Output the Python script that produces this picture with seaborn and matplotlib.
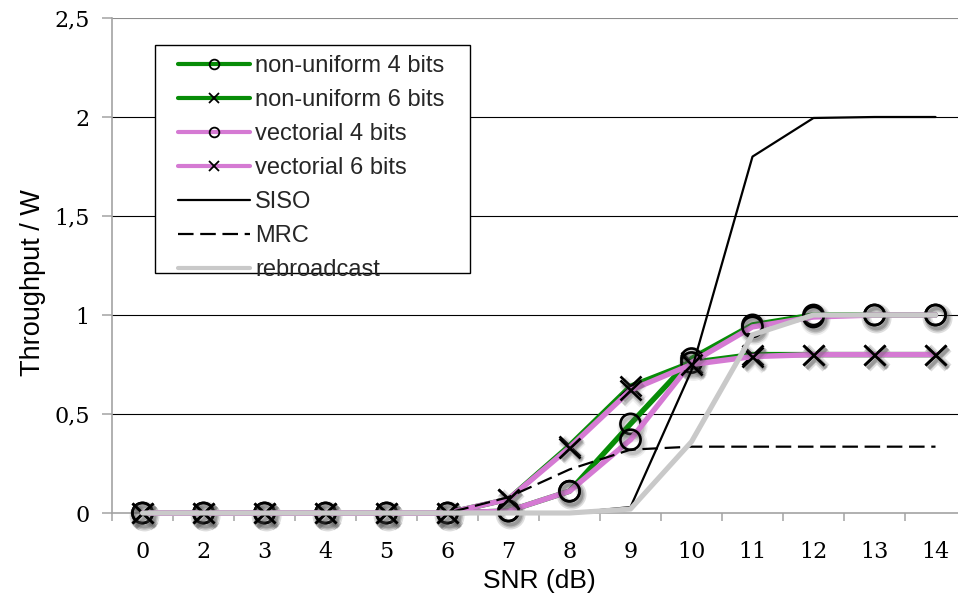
import matplotlib
matplotlib.use("Agg")
import matplotlib.pyplot as plt
import matplotlib.patheffects as pe
from matplotlib.lines import Line2D
from matplotlib.patches import Rectangle
from matplotlib.ticker import FixedLocator
import seaborn as sns

# SNR categories (dB) and throughput per W for each scheme
snr_labels = ["0", "2", "3", "4", "5", "6", "7", "8", "9", "10", "11", "12", "13", "14"]
nonuniform_4 = [0, 0, 0, 0, 0, 0, 0.01, 0.11, 0.45, 0.78, 0.95, 1.0, 1.0, 1.0]
nonuniform_6 = [0, 0, 0, 0, 0, 0, 0.07, 0.34, 0.64, 0.76, 0.80, 0.80, 0.80, 0.80]
vectorial_4 = [0, 0, 0, 0, 0, 0, 0.01, 0.11, 0.37, 0.76, 0.94, 0.99, 1.0, 1.0]
vectorial_6 = [0, 0, 0, 0, 0, 0, 0.07, 0.33, 0.62, 0.75, 0.79, 0.80, 0.80, 0.80]
siso = [0, 0, 0, 0, 0, 0, 0, 0, 0.03, 0.72, 1.80, 1.995, 2.0, 2.0]
mrc = [0, 0, 0, 0, 0, 0, 0.08, 0.22, 0.32, 0.335, 0.335, 0.335, 0.335, 0.335]
rebroadcast = [0, 0, 0, 0, 0, 0, 0, 0, 0.02, 0.36, 0.90, 1.0, 1.0, 1.0]

y_ticks = [0, 0.5, 1, 1.5, 2, 2.5]
y_tick_labels = ["0", "0,5", "1", "1,5", "2", "2,5"]

GREEN = "#078C07"
PINK = "#D57AD3"
GRAY = "#C9C9C9"
AXIS_GRAY = "#A3A3A3"

series = [
    ("non-uniform 4 bits", nonuniform_4, GREEN, 3.9, "-", "o"),
    ("non-uniform 6 bits", nonuniform_6, GREEN, 3.9, "-", "x"),
    ("vectorial 4 bits", vectorial_4, PINK, 3.9, "-", "o"),
    ("vectorial 6 bits", vectorial_6, PINK, 3.9, "-", "x"),
    ("SISO", siso, "black", 1.6, "-", None),
    ("MRC", mrc, "black", 1.6, (0, (7, 3)), None),
    ("rebroadcast", rebroadcast, GRAY, 3.7, "-", None),
]

sns.set_theme(style="white")
plt.rcParams["font.family"] = ["Liberation Sans", "DejaVu Sans"]

fig = plt.figure(figsize=(9.58, 6.02), dpi=100)
ax = fig.add_axes([112 / 958, 89 / 602, 854 / 958, 495 / 602])

# horizontal gridlines
for yv in y_ticks[1:]:
    ax.axhline(yv, color="#8C8C8C" if yv == y_ticks[-1] else "black", lw=0.8, zorder=1)

# soft drop shadow under the markers
shadow = [pe.SimpleLineShadow(offset=(1.5, -2.5), shadow_color="0.35", alpha=0.10, linewidth=7),
          pe.SimpleLineShadow(offset=(1.5, -2.5), shadow_color="0.35", alpha=0.14, linewidth=4.5),
          pe.SimpleLineShadow(offset=(1.5, -2.5), shadow_color="0.35", alpha=0.18, linewidth=2.5),
          pe.Normal()]

handles = []
z = 3
for name, vals, color, lw, ls, mk in series:
    sns.lineplot(x=snr_labels, y=vals, ax=ax, color=color, lw=lw, linestyle=ls,
                 sort=False, estimator=None, zorder=z, clip_on=False)
    if mk is not None:
        sns.lineplot(x=snr_labels, y=vals, ax=ax, linestyle="", marker=mk,
                     markersize=14.5, markerfacecolor="none", markeredgecolor="black",
                     markeredgewidth=1.9, sort=False, estimator=None,
                     zorder=z + 1, clip_on=False)
        ax.lines[-1].set_path_effects(shadow)
    z += 2
    handles.append(Line2D([], [], color=color, lw=3.0 if lw > 3 else lw, linestyle=ls,
                          marker=mk if mk else None, markersize=7,
                          markerfacecolor="none", markeredgecolor="black",
                          markeredgewidth=1.3))

ax.set_xlim(-0.5, len(snr_labels) - 0.5)
ax.set_ylim(0, 2.5)
ax.set_yticks(y_ticks, y_tick_labels, fontfamily="DejaVu Serif", fontsize=16)
ax.set_xticks(range(len(snr_labels)), snr_labels, fontfamily="DejaVu Serif", fontsize=16)
ax.xaxis.set_minor_locator(FixedLocator([i - 0.5 for i in range(len(snr_labels) + 1)]))

ax.tick_params(axis="y", which="major", left=True, length=7, width=1.1,
               color=AXIS_GRAY, pad=9, labelcolor="black")
ax.tick_params(axis="x", which="major", bottom=False, length=0, pad=20, labelcolor="black")
ax.tick_params(axis="x", which="minor", bottom=True, length=6, width=1.1, color=AXIS_GRAY)

for side in ("top", "right"):
    ax.spines[side].set_visible(False)
for side in ("left", "bottom"):
    ax.spines[side].set_color(AXIS_GRAY)
    ax.spines[side].set_linewidth(1.2)
    ax.spines[side].set_zorder(2)

ax.set_xlabel("SNR (dB)", fontsize=19, color="black")
ax.xaxis.label.set_verticalalignment("center")
ax.xaxis.set_label_coords(0.5, -0.138)
ax.set_ylabel("Throughput / W", fontsize=19.5, color="black")
ax.yaxis.label.set_verticalalignment("center")
ax.yaxis.set_label_coords(-0.093, 0.465)

# legend box
ax.add_patch(Rectangle((155 / 958, 1 - 273 / 602), 315 / 958, 228 / 602,
                       transform=fig.transFigure, facecolor="white", edgecolor="black",
                       lw=1.0, clip_on=False, zorder=19))
leg = ax.legend(handles, [s[0] for s in series], loc="upper left",
                bbox_to_anchor=(178 / 958, 1 - 55 / 602), bbox_transform=fig.transFigure,
                frameon=False, fontsize=17, handlelength=3.05, handletextpad=0.22,
                labelspacing=0.51, borderpad=0, borderaxespad=0)
leg.set_zorder(20)

fig.savefig("out.png", dpi=100)
